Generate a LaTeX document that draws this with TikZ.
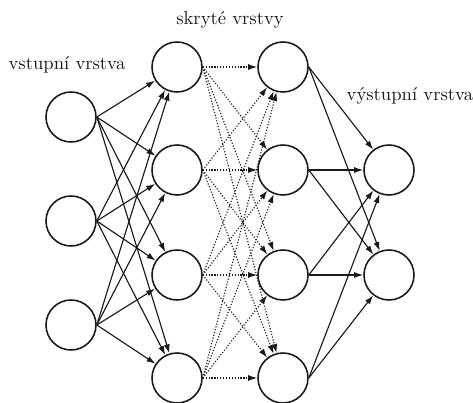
\documentclass[tikz,border=0pt]{standalone}
\usepackage{fontspec}
\usetikzlibrary{arrows.meta}
\definecolor{inkC}{HTML}{1A1A1A}

\begin{document}
\begin{tikzpicture}[
  x=1cm,
  y=1cm,
  neuron/.style={circle, draw=inkC, line width=0.9pt, minimum size=1cm, inner sep=0pt},
  conn/.style={inkC, line width=0.65pt, -{Latex[length=1.8mm, width=1.2mm]}},
  layerlabel/.style={inkC, inner sep=0pt, scale=1.06}
]

\useasboundingbox (0,0) rectangle (9.46,-8.06);

% Input layer
\foreach \i/\y in {1/-2.34, 2/-4.42, 3/-6.50}{
  \node[neuron] (in-\i) at (1.42,\y) {};
}

% Hidden layers
\foreach \i/\y in {1/-1.34, 2/-3.40, 3/-5.50, 4/-7.56}{
  \node[neuron] (h1-\i) at (3.54,\y) {};
  \node[neuron] (h2-\i) at (5.66,\y) {};
}

% Output layer
\foreach \i/\y in {1/-3.40, 2/-5.50}{
  \node[neuron] (out-\i) at (7.78,\y) {};
}

% Labels
\node[layerlabel] (lab-in) at (1.34,-1.30) {vstupní vrstva};
\node[layerlabel] (lab-hid) at (4.60,-0.40) {skryté vrstvy};
\node[layerlabel] (lab-out) at (8.20,-1.92) {výstupní vrstva};

% Connections
\foreach \i in {1,2,3}{
  \foreach \j in {1,...,4}{
    \draw[conn] (in-\i.east) -- (h1-\j);
  }
}
\foreach \i in {1,...,4}{
  \foreach \j in {1,...,4}{
    \draw[conn, densely dotted] (h1-\i.east) -- (h2-\j);
  }
}
\foreach \i in {1,...,4}{
  \foreach \j in {1,2}{
    \draw[conn] (h2-\i.east) -- (out-\j);
  }
}

\end{tikzpicture}
\end{document}
